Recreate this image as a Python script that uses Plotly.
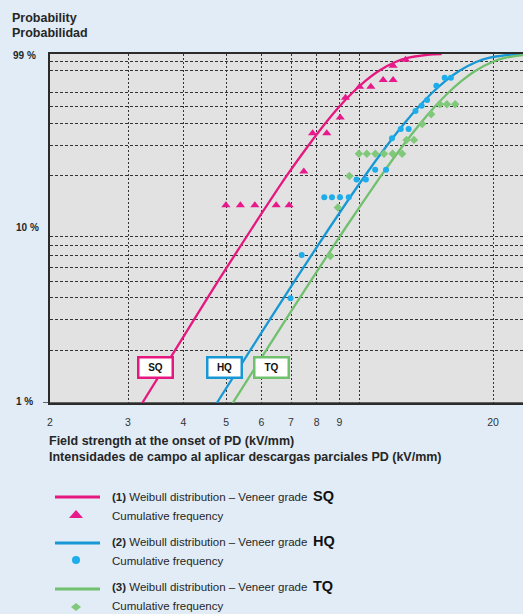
import math
import plotly.graph_objects as go

# ---------------- data ----------------
# Weibull distribution curves: field strength (kV/mm) vs cumulative probability (%)
curve_p = [1, 2, 5, 10, 20, 30, 40, 50, 60, 70, 80, 90, 95, 99, 99.5, 99.8]
sq_curve_x = [3.23, 3.83, 4.79, 5.71, 6.84, 7.67, 8.36, 9.00, 9.63, 10.29, 11.04, 12.04, 12.83, 14.24, 14.73, 15.31]
hq_curve_x = [4.76, 5.66, 7.13, 8.53, 10.27, 11.54, 12.61, 13.61, 14.58, 15.60, 16.77, 18.33, 19.56, 21.76, 22.53, 23.45]
tq_curve_x = [5.17, 6.15, 7.75, 9.27, 11.17, 12.54, 13.71, 14.79, 15.85, 16.96, 18.23, 19.92, 21.27, 23.66, 24.5, 25.5]

# Cumulative frequency points
sq_pts_x = [4.99, 5.38, 5.80, 6.48, 6.93, 7.48, 7.83, 8.43, 9.04, 9.29, 10.0, 10.6, 11.3, 11.9, 11.9, 12.7]
sq_pts_p = [13.6, 13.6, 13.6, 13.6, 13.6, 21.2, 35.1, 35.1, 43.2, 56.2, 65.0, 65.0, 71.0, 71.0, 85.7, 92.7]
hq_pts_x = [6.98, 7.40, 8.32, 8.66, 9.03, 9.45, 9.84, 10.33, 10.84, 11.47, 11.83, 12.38, 12.90, 13.37, 13.8, 14.2, 14.9, 15.56, 16.07]
hq_pts_p = [3.98, 7.05, 15.1, 15.1, 15.1, 15.1, 19.1, 19.1, 21.7, 21.7, 32.9, 37.2, 37.2, 47.1, 50.5, 54.5, 65.8, 73.1, 73.1]
tq_pts_x = [8.59, 8.93, 9.48, 9.96, 10.38, 10.85, 11.35, 11.87, 12.47, 12.76, 13.26, 13.84, 14.5, 15.17, 15.74, 16.43]
tq_pts_p = [6.96, 13.2, 20.0, 26.8, 26.8, 26.8, 26.8, 26.8, 26.8, 32.2, 32.2, 39.7, 45.1, 51.5, 51.5, 51.5]

x_ticks = [2, 3, 4, 5, 6, 7, 8, 9, 10, 20]
x_tick_text = ["2", "3", "4", "5", "6", "7", "8", "9", "", "20"]
y_grid = [2, 3, 4, 5, 6, 7, 8, 9, 20, 30, 40, 50, 60, 80, 90]
y_labels = ["99 %", "10 %", "1 %"]

# ---------------- styling ----------------
PINK = "#e6177f"
BLUE = "#1798d5"
GREEN = "#70c06e"
PINK_M = "#e8198b"
BLUE_M = "#1cadea"
GREEN_M = "#80c97a"
TXT = "#262626"
FONT = "Liberation Sans, Arial, sans-serif"

W, H = 523, 614
L, T, B = 50, 54, 211
PW, PH = W - L, H - T - B
BOT = H - B


def px(p):
    return (p - L) / PW


def py(p):
    return (BOT - p) / PH


fig = go.Figure()

for cx, col in [(sq_curve_x, PINK), (hq_curve_x, BLUE), (tq_curve_x, GREEN)]:
    fig.add_trace(go.Scatter(x=cx, y=curve_p, mode="lines",
                             line=dict(color=col, width=2.3, shape="spline", smoothing=0.6),
                             hoverinfo="skip", showlegend=False))

fig.add_trace(go.Scatter(x=sq_pts_x, y=sq_pts_p, mode="markers",
                         marker=dict(symbol="triangle-up", size=8, color=PINK_M),
                         showlegend=False))
fig.add_trace(go.Scatter(x=hq_pts_x, y=hq_pts_p, mode="markers",
                         marker=dict(symbol="circle", size=6, color=BLUE_M),
                         showlegend=False))
fig.add_trace(go.Scatter(x=tq_pts_x, y=tq_pts_p, mode="markers",
                         marker=dict(symbol="diamond", size=6.5, color=GREEN_M),
                         showlegend=False))

shapes = []
# solid 10 kV/mm line (extends a little below the plot)
shapes.append(dict(type="line", xref="x", yref="paper", x0=math.log10(10), x1=math.log10(10),
                   y0=-5 / PH, y1=1, line=dict(color="#1e1e1e", width=1.3), layer="above"))
# solid 10 % line (extends a little left of the plot)
shapes.append(dict(type="line", xref="paper", yref="y", x0=-7 / PW, x1=1,
                   y0=math.log10(10), y1=math.log10(10), line=dict(color="#3a3a3a", width=1.6),
                   layer="below"))
# partial 70 % grid line
shapes.append(dict(type="line", xref="x", yref="y", x0=math.log10(6), x1=math.log10(30),
                   y0=math.log10(70), y1=math.log10(70),
                   line=dict(color="#333333", width=1.1, dash="3px,2px"), layer="below"))

# legend symbols
for yy, col in [(497, PINK), (543, BLUE), (589, GREEN)]:
    shapes.append(dict(type="line", xref="paper", yref="paper", x0=px(55), x1=px(100),
                       y0=py(yy), y1=py(yy), line=dict(color=col, width=3)))
shapes.append(dict(type="path", xref="paper", yref="paper",
                   path=f"M{px(69)},{py(518)} L{px(83)},{py(518)} L{px(76)},{py(510)} Z",
                   fillcolor=PINK_M, line=dict(width=0)))
shapes.append(dict(type="circle", xref="paper", yref="paper",
                   x0=px(72), x1=px(80), y0=py(564), y1=py(556),
                   fillcolor=BLUE_M, line=dict(width=0)))
shapes.append(dict(type="path", xref="paper", yref="paper",
                   path=f"M{px(71)},{py(607)} L{px(76)},{py(603)} L{px(81)},{py(607)} L{px(76)},{py(611)} Z",
                   fillcolor=GREEN_M, line=dict(width=0)))

ann = []


def text(x, y, s, size, anchor="left", color=TXT):
    ann.append(dict(xref="paper", yref="paper", x=px(x), y=py(y), text=s, showarrow=False,
                    xanchor=anchor, yanchor="middle", font=dict(family=FONT, size=size, color=color)))


text(10, 17.5, "<b>Probability</b>", 12.5)
text(10, 33, "<b>Probabilidad</b>", 12.5)
text(11, 56, f"<b>{y_labels[0]}</b>", 10)
text(14, 227.5, f"<b>{y_labels[1]}</b>", 10)
text(14, 401.5, f"<b>{y_labels[2]}</b>", 10)
text(47, 441.5, "<b>Field strength at the onset of PD (kV/mm)</b>", 12.5)
text(47, 457, "<b>Intensidades de campo al aplicar descargas parciales PD (kV/mm)</b>", 12.5)

for i, (yy, lab) in enumerate([(497, "SQ"), (542, "HQ"), (587, "TQ")]):
    text(110, yy, f"<b>({i + 1})</b> Weibull distribution – Veneer grade", 11.5)
    text(311, yy - 1.5, f"<b>{lab}</b>", 14.5, color="#111111")
    text(110, yy + 19, "Cumulative frequency", 11.5)

for cx, lab, col in [(155, "SQ", PINK), (224, "HQ", BLUE), (271.7, "TQ", GREEN)]:
    ann.append(dict(xref="paper", yref="paper", x=px(cx), y=py(367), text=f"<b>{lab}</b>",
                    showarrow=False, xanchor="center", yanchor="middle",
                    font=dict(family=FONT, size=10, color="#111111"),
                    bgcolor="white", bordercolor=col, borderwidth=2.5, borderpad=2,
                    width=28, height=14))

fig.update_layout(
    width=W, height=H,
    margin=dict(l=L, r=0, t=T, b=B, pad=0),
    paper_bgcolor="#e1ecf6",
    plot_bgcolor="#e2e2e2",
    shapes=shapes,
    annotations=ann,
    showlegend=False,
    xaxis=dict(type="log", range=[math.log10(2), math.log10(2) + PW / 443],
               tickvals=x_ticks, ticktext=x_tick_text, ticks="",
               tickfont=dict(family=FONT, size=10.5, color="#333333"),
               ticklabelstandoff=9,
               showgrid=True, gridcolor="#333333", gridwidth=1.1, griddash="2px,2px",
               showline=True, linecolor="#2b2b2b", linewidth=1.5, mirror=True,
               zeroline=False, fixedrange=True),
    yaxis=dict(type="log", range=[0, 2],
               tickvals=y_grid, showticklabels=False, ticks="",
               showgrid=True, gridcolor="#333333", gridwidth=1.1, griddash="3px,2px",
               showline=True, linecolor="#2b2b2b", linewidth=1.5,
               zeroline=False, fixedrange=True),
)

fig.write_html("out.html", config={"displayModeBar": False},
               post_script="document.body.style.margin='0';document.body.style.padding='0';"
                           "document.documentElement.style.overflow='hidden';")
